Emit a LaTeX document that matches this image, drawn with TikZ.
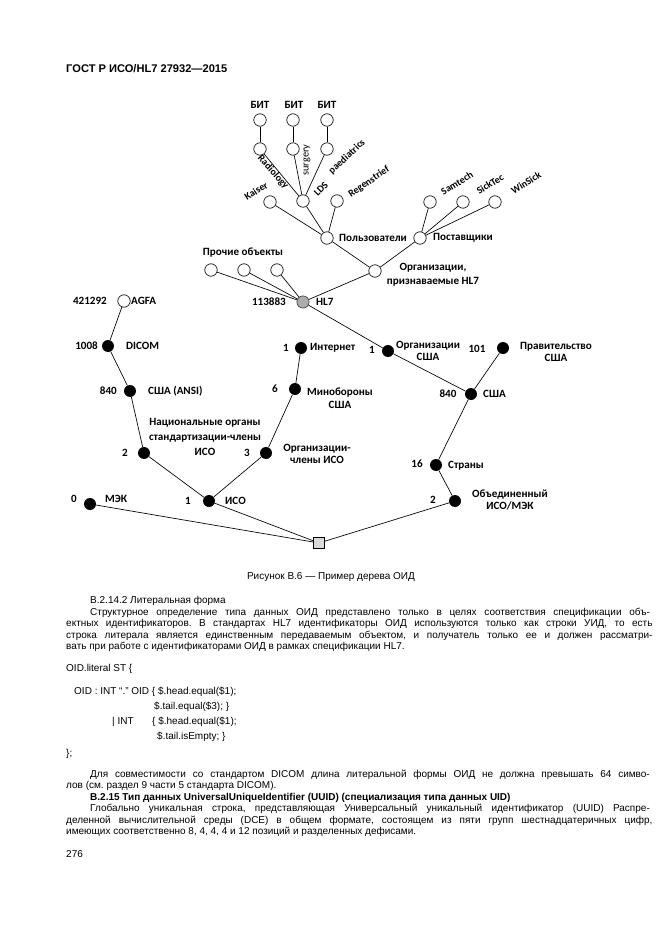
\documentclass[tikz,border=0pt]{standalone}
\usepackage{fontspec}
\setmainfont{Liberation Sans}
\newfontfamily\carl{Carlito}
\frenchspacing
\begin{document}
\begin{tikzpicture}[x=0.9006pt,y=-0.9006pt,
  blk/.style={circle,fill=black,inner sep=0pt,minimum size=10.8pt},
  opn/.style={circle,draw=black,fill=white,line width=0.6pt,inner sep=0pt,minimum size=11.2pt},
  gry/.style={circle,draw=gray!50!black,fill=gray!65,line width=0.6pt,inner sep=0pt,minimum size=11pt},
  sqr/.style={rectangle,draw=black,fill=gray!30,line width=0.6pt,inner sep=0pt,minimum size=10pt},
  lbl/.style={font=\carl\bfseries\fontsize{10}{11.5}\selectfont,inner sep=0pt},
  rlb/.style={font=\carl\bfseries\fontsize{9}{10}\selectfont,inner sep=0pt},
  edge/.style={line width=0.6pt},
  body/.style={font=\fontsize{9}{11}\selectfont,inner sep=0pt,anchor=base west},
  bodyb/.style={font=\bfseries\fontsize{9}{11}\selectfont,inner sep=0pt,anchor=base west}]
\useasboundingbox (0,0) rectangle (661,935);
\fill[white] (0,0) rectangle (661,935);
% header
\node[font=\bfseries\fontsize{10}{12}\selectfont,inner sep=0pt,anchor=base west] (hdr) at (66,72) {ГОСТ Р ИСО/HL7 27932—2015};
% ---------- tree nodes ----------
\node[opn] (t1) at (260,120) {};
\node[opn] (t2) at (293,120) {};
\node[opn] (t3) at (327,120) {};
\node[opn] (m1) at (260,149) {};
\node[opn] (m2) at (293,149) {};
\node[opn] (m3) at (327,149) {};
\node[opn] (kai) at (270,202) {};
\node[opn] (lds) at (303,201) {};
\node[opn] (reg) at (337,201) {};
\node[opn] (pol) at (327,238) {};
\node[opn] (sam) at (430,202) {};
\node[opn] (sic) at (463,202) {};
\node[opn] (win) at (495,202) {};
\node[opn] (pos) at (420,238) {};
\node[opn] (orh) at (375,271) {};
\node[gry] (hl7) at (303,302) {};
\node[opn] (p1) at (211,270) {};
\node[opn] (p2) at (244,270) {};
\node[opn] (p3) at (277,270) {};
\node[opn] (agfa) at (124,301) {};
\node[blk] (dicom) at (108,346) {};
\node[blk] (ansi) at (130,391) {};
\node[blk] (nat) at (144,453) {};
\node[blk] (iso) at (209,501) {};
\node[blk] (mek) at (90,504) {};
\node[sqr] (root) at (319,543) {};
\node[blk] (n3) at (266,453) {};
\node[blk] (mo) at (295,389) {};
\node[blk] (inet) at (301,348) {};
\node[blk] (orgusa) at (388,351) {};
\node[blk] (usa) at (471,394) {};
\node[blk] (gov) at (503,348) {};
\node[blk] (str) at (436,465) {};
\node[blk] (joint) at (455,501) {};
% ---------- edges ----------
\draw[edge] (t1) -- (m1);
\draw[edge] (t2) -- (m2);
\draw[edge] (t3) -- (m3);
\draw[edge] (m1) -- (lds);
\draw[edge] (m2) -- (lds);
\draw[edge] (m3) -- (lds);
\draw[edge] (kai) -- (pol);
\draw[edge] (lds) -- (pol);
\draw[edge] (reg) -- (pol);
\draw[edge] (sam) -- (pos);
\draw[edge] (sic) -- (pos);
\draw[edge] (win) -- (pos);
\draw[edge] (pol) -- (orh);
\draw[edge] (pos) -- (orh);
\draw[edge] (orh) -- (hl7);
\draw[edge] (p1) -- (hl7);
\draw[edge] (p2) -- (hl7);
\draw[edge] (p3) -- (hl7);
\draw[edge] (hl7) -- (orgusa);
\draw[edge] (orgusa) -- (usa);
\draw[edge] (gov) -- (usa);
\draw[edge] (usa) -- (str);
\draw[edge] (str) -- (joint);
\draw[edge] (joint) -- (root);
\draw[edge] (iso) -- (root);
\draw[edge] (mek) -- (root);
\draw[edge] (nat) -- (iso);
\draw[edge] (n3) -- (iso);
\draw[edge] (ansi) -- (nat);
\draw[edge] (dicom) -- (ansi);
\draw[edge] (agfa) -- (dicom);
\draw[edge] (mo) -- (n3);
\draw[edge] (inet) -- (mo);
% ---------- labels ----------
\node[lbl] (b1) at (260,105) {БИТ};
\node[lbl] (b2) at (294,105) {БИТ};
\node[lbl] (b3) at (327,105) {БИТ};
\node[rlb,rotate=-48] (lrad) at (273,172) {Radiology};
\node[font=\carl\fontsize{9.3}{10}\selectfont,inner sep=0pt,rotate=90] (lsur) at (307,160) {surgery};
\node[rlb,rotate=43] (lped) at (347,157) {paediatrics};
\node[rlb,rotate=45] (llds) at (321,189) {LDS};
\node[rlb,rotate=34] (lreg) at (369,182) {Regenstrief};
\node[rlb,rotate=32] (lkai) at (256,191) {Kaiser};
\node[rlb,rotate=32] (lsam) at (457,183) {Samtech};
\node[rlb,rotate=32] (lsic) at (490,184) {SickTec};
\node[rlb,rotate=32] (lwin) at (526,183) {WinSick};
\node[lbl,anchor=west] (lpol) at (339,238) {Пользователи};
\node[lbl,anchor=west] (lpos) at (433,238) {Поставщики};
\node[lbl,align=center,font=\carl\bfseries\fontsize{10}{13}\selectfont] (lorh) at (433,275) {Организации,\\признаваемые HL7};
\node[lbl] (lpro) at (243,253) {Прочие объекты};
\node[lbl,anchor=east] (n113) at (286,302) {113883};
\node[lbl,anchor=west] (lhl7) at (316,302) {HL7};
\node[lbl,anchor=east] (n421) at (107,301) {421292};
\node[lbl,anchor=west] (lagfa) at (131,301) {AGFA};
\node[lbl,anchor=east] (n1008) at (98,346) {1008};
\node[lbl,anchor=west] (ldicom) at (126,346) {DICOM};
\node[lbl] (n1i) at (286,348) {1};
\node[lbl,anchor=west] (linet) at (310,348) {Интернет};
\node[lbl,anchor=east] (n840a) at (117,391) {840};
\node[lbl,anchor=west] (lansi) at (148,391) {США (ANSI)};
\node[lbl] (n6) at (275,389) {6};
\node[lbl,align=center] (lmo) at (340,398) {Минобороны\\США};
\node[lbl,align=center,font=\carl\bfseries\fontsize{10}{13.5}\selectfont] (lnat) at (205,437) {Национальные органы\\стандартизации-члены\\ИСО};
\node[lbl] (n2) at (125,453) {2};
\node[lbl] (n3l) at (247,453) {3};
\node[lbl,align=center] (ln3) at (317,454) {Организации-\\члены ИСО};
\node[lbl] (n1iso) at (188,501) {1};
\node[lbl,anchor=west] (liso) at (225,501) {ИСО};
\node[lbl] (n0) at (74,499) {0};
\node[lbl,anchor=west] (lmek) at (105,499) {МЭК};
\node[lbl] (n1o) at (372,350) {1};
\node[lbl,align=center] (lorgusa) at (428,351) {Организации\\США};
\node[lbl] (n101) at (477,349) {101};
\node[lbl,align=center] (lgov) at (556,352) {Правительство\\США};
\node[lbl] (n840u) at (448,394) {840};
\node[lbl,anchor=west] (lusa) at (483,394) {США};
\node[lbl] (n16) at (417,464) {16};
\node[lbl,anchor=west] (lstr) at (448,466) {Страны};
\node[lbl] (n2j) at (433,500) {2};
\node[lbl,align=center] (ljoint) at (510,500) {Объединенный\\ИСО/МЭК};
% ---------- caption and body ----------
\node[font=\fontsize{9}{11}\selectfont,inner sep=0pt,anchor=base] (cap) at (331,579) {Рисунок В.6 — Пример дерева ОИД};
\node[body] (l1) at (90,603) {В.2.14.2 Литеральная форма};
\node[body] (l2) at (90,615) {\makebox[504\unitlength][s]{Структурное определение типа данных ОИД представлено только в целях соответствия спецификации объ-}};
\node[body] (l3) at (66,626.5) {\makebox[528\unitlength][s]{ектных идентификаторов. В стандартах HL7 идентификаторы ОИД используются только как строки УИД, то есть}};
\node[body] (l4) at (66,638) {\makebox[528\unitlength][s]{строка литерала является единственным передаваемым объектом, и получатель только ее и должен рассматри-}};
\node[body] (l5) at (66,649.5) {вать при работе с идентификаторами ОИД в рамках спецификации HL7.};
\node[body] (c1) at (66,671) {OID.literal ST \{};
\node[body] (c2) at (74,694) {OID : INT “.” OID \{ \$.head.equal(\$1);};
\node[body] (c3) at (154,709) {\$.tail.equal(\$3); \}};
\node[body] (c4) at (112,724) {| INT};
\node[body] (c4b) at (152,724) {\{ \$.head.equal(\$1);};
\node[body] (c5) at (157,739) {\$.tail.isEmpty; \}};
\node[body] (c6) at (66,756) {\};};
\node[body] (l6) at (90,777) {\makebox[504\unitlength][s]{Для совместимости со стандартом DICOM длина литеральной формы ОИД не должна превышать 64 симво-}};
\node[body] (l7) at (66,788.5) {лов (см. раздел 9 части 5 стандарта DICOM).};
\node[bodyb] (l8) at (90,800) {В.2.15 Тип данных UniversalUniqueIdentifier (UUID) (специализация типа данных UID)};
\node[body] (l9) at (90,811.5) {\makebox[504\unitlength][s]{Глобально уникальная строка, представляющая Универсальный уникальный идентификатор (UUID) Распре-}};
\node[body] (l10) at (66,823) {\makebox[528\unitlength][s]{деленной вычислительной среды (DCE) в общем формате, состоящем из пяти групп шестнадцатеричных цифр,}};
\node[body] (l11) at (66,834.5) {имеющих соответственно 8, 4, 4, 4 и 12 позиций и разделенных дефисами.};
\node[body] (pg) at (66,857) {276};
\end{tikzpicture}
\end{document}
